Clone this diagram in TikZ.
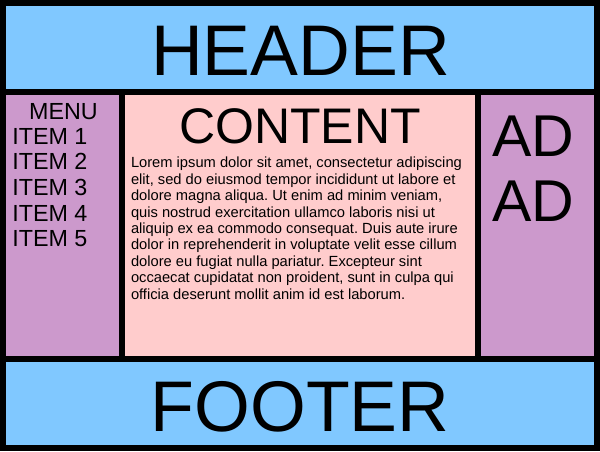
\documentclass[tikz,border=0pt]{standalone}
\usepackage{fontspec}
\setmainfont{Liberation Sans}
\usetikzlibrary{positioning}
\definecolor{headblue}{RGB}{128,200,255}
\definecolor{sidepurple}{RGB}{204,153,204}
\definecolor{mainpink}{RGB}{255,204,204}
\frenchspacing

\begin{document}
\begin{tikzpicture}[x=1pt,y=-1pt,line width=6pt,inner sep=0pt,outer sep=0pt,
  box/.style={draw,rectangle,inner sep=0pt,outer sep=0pt},
  bigtxt/.style={anchor=base,font=\fontsize{71.7}{72}\selectfont},
  menutxt/.style={font=\fontsize{23.3}{25.6}\selectfont}]
\useasboundingbox (0,0) rectangle (600,451);
% boxes
\node[box,fill=headblue,minimum width=594pt,minimum height=89pt,anchor=north west] (header) at (3,3) {};
\node[box,fill=sidepurple,minimum width=118.5pt,minimum height=267pt,below right=0pt of header.south west] (menu) {};
\node[box,fill=mainpink,minimum width=356.5pt,minimum height=267pt,below right=0pt of menu.north east] (content) {};
\node[box,fill=sidepurple,minimum width=119pt,minimum height=267pt,below right=0pt of content.north east] (ad) {};
\node[box,fill=headblue,minimum width=594pt,minimum height=89pt,below right=0pt of menu.south west] (footer) {};
% texts
\node[bigtxt] (headtxt) at (300.5,75) {HEADER};
\node[bigtxt] (foottxt) at (300,431) {FOOTER};
\node[anchor=base,font=\fontsize{50}{50}\selectfont] (conttxt) at (300,143) {CONTENT};
\node[anchor=base,menutxt] (menutitle) at (63.5,119) {MENU};
\foreach \i in {1,...,5}
  \node[anchor=base west,menutxt] (item\i) at (12.3,{118.7+25.6*\i}) {ITEM \i};
\node[anchor=base,font=\fontsize{59}{59}\selectfont] (adone) at (533,156.7) {AD};
\node[anchor=base,font=\fontsize{59}{59}\selectfont] (adtwo) at (533,221.7) {AD};
\node[anchor=north west,align=left,font=\fontsize{14.7}{16.4}\selectfont] (lorem) at (131,157.3)
  {Lorem ipsum dolor sit amet, consectetur adipiscing\\
   elit, sed do eiusmod tempor incididunt ut labore et\\
   dolore magna aliqua. Ut enim ad minim veniam,\\
   quis nostrud exercitation ullamco laboris nisi ut\\
   aliquip ex ea commodo consequat. Duis aute irure\\
   dolor in reprehenderit in voluptate velit esse cillum\\
   dolore eu fugiat nulla pariatur. Excepteur sint\\
   occaecat cupidatat non proident, sunt in culpa qui\\
   officia deserunt mollit anim id est laborum.};
\end{tikzpicture}
\end{document}
